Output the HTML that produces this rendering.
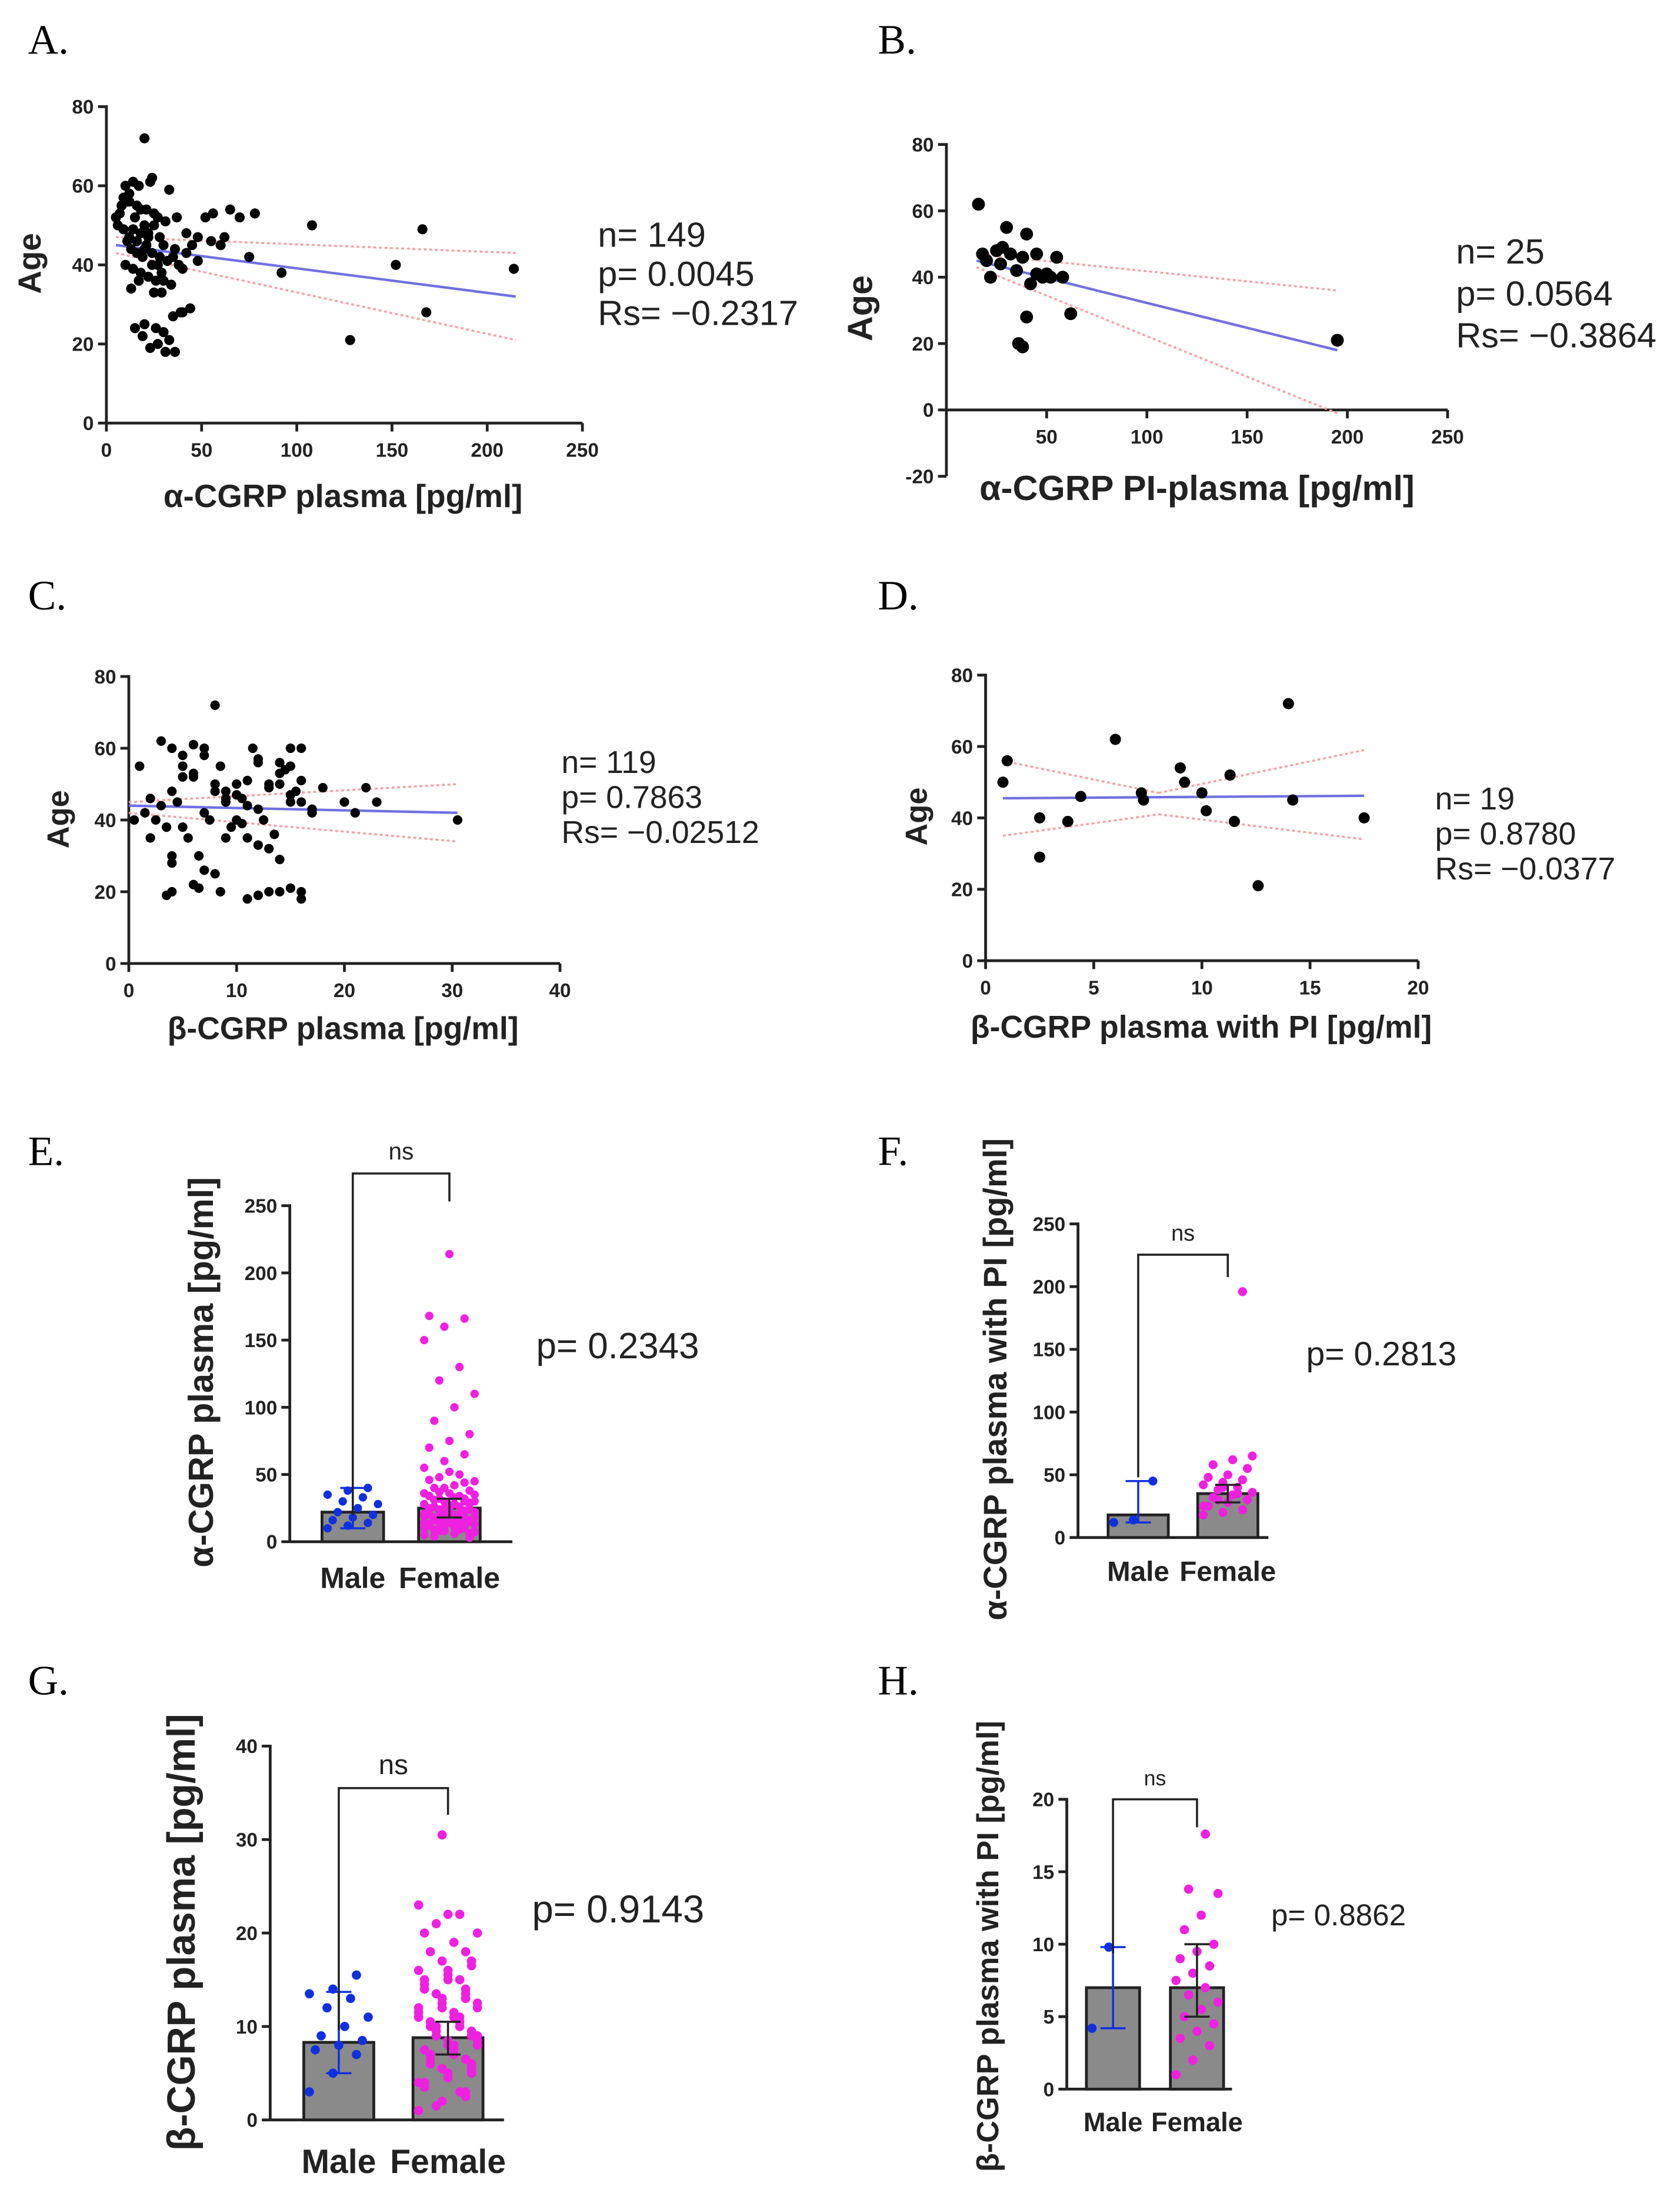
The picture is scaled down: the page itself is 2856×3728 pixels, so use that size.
<!DOCTYPE html>
<html><head><meta charset="utf-8"><style>
html,body{margin:0;padding:0;background:#fff;}
svg{display:block;}
text{font-family:"Liberation Sans",Arial,sans-serif;}
.lt{font-family:"Liberation Serif",serif;font-size:30px;}
.tk{font-size:14px;font-weight:bold;fill:#222;}
.ti{font-size:20px;font-weight:bold;fill:#222;}
.st{font-size:22px;fill:#222;}
</style></head><body>
<svg id="fig" width="2856" height="3728" viewBox="0 0 1200 1566" xmlns="http://www.w3.org/2000/svg"></svg>
<script>
// ---- data ----
const aX=[10,12,14,8,15,18,20,22,25,28,30,5,7,9,11,13,16,19,21,24,27,29,32,35,38,40,10,14,18,22,26,30,34,12,16,20,24,28,8,6,11,17,23,33,37,42,45,48,52,56,60,62,65,70,75,78,92,108,128,152,166,168,214,15,19,23,27,31,36,40,44,13,17,25,29,35,39,20,26,30,33,9,12,16,21,25,27,31,36,42,48,55,20,24,14,18,22];
const aY=[60,58,61,55,52,54,50,48,50,47,45,52,53,49,46,44,43,42,45,40,40,38,41,42,40,39,40,39,38,37,36,36,35,47,46,44,43,42,55,50,56,60,61,59,52,48,45,47,52,53,45,47,54,52,42,53,38,50,21,40,49,28,39,24,22,19,20,18,18,28,29,34,36,33,33,27,28,25,24,23,21,57,56,55,54,53,52,51,44,43,41,46,72,62,49,48,47];
const bX=[16,18,20,22,25,27,30,32,35,38,40,42,45,48,50,52,55,58,62,36,38,40,28,45,195];
const bY=[62,47,45,40,48,44,55,47,42,46,53,38,47,40,41,40,46,40,29,20,19,28,49,41,21];
const cX=[0.5,1,2,3,4,5,6,7,8,9,10,11,12,13,14,15,16,1.5,2.5,3.5,4.5,5.5,6.5,7.5,8.5,9.5,10.5,11.5,12.5,13.5,14.5,15.5,3,4,5,6,7,8,9,10,11,12,13,14,15,16,17,2,4,6,8,10,12,14,16,5,7,9,11,13,15,3.5,6.5,8.5,11,13,15,4,7,9,12,14,16,18,20,21,22,23,30.5,10.5,8,6,4,5,12,14,15,16,17];
const cY=[40,55,46,44,48,52,53,42,50,45,47,44,56,50,53,47,45,42,40,38,45,35,30,40,55,38,46,60,40,36,54,48,62,30,38,52,60,48,46,40,35,43,32,50,60,20,42,35,20,22,25,50,19,20,18,55,58,48,51,49,45,19,21,20,18,20,21,28,26,35,33,29,60,49,45,42,49,45,40,39,72,61,60,58,57,56,55,51,43,60];
const dX=[0.8,1,2.5,2.5,3.8,4.4,6,7.2,7.3,9,9.2,10,10.2,11.3,11.5,12.6,14,14.2,17.5];
const dY=[50,56,40,29,39,46,62,47,45,54,50,47,42,52,39,21,72,45,40];
const eMale=[10,12,14,16,18,20,22,25,28,30,33,35,38,40];
const eFemale=[5,8,10,12,14,16,18,20,22,24,26,28,30,32,34,36,38,40,42,45,48,50,55,60,65,70,75,80,90,100,110,120,130,150,160,166,168,214,6,9,11,13,15,17,19,21,23,25,27,29,31,33,35,37,15,20,25,30,20,25,3,4,6,7,8,9,10,11,12,13,14,15,16,17,18,19,20,21,22,23,24,26,28,4,6,8,10,12,14,16,18,20,22,24,26,28,30,32,34,36,40,44,46,52];
const fMale=[12,14,45];
const fFemale=[18,20,22,25,28,30,32,34,36,38,40,42,44,46,48,50,55,58,62,65,30,35,25,40,196];
const gMale=[3,5,7,7.5,8,8.5,9,10,11,12,13,13.5,14,15.5];
const gFemale=[1,2,3,4,5,6,7,8,9,10,11,12,13,14,15,16,17,18,19,20,21,22,23,30.5,2.5,3.5,4.5,5.5,6.5,7.5,8.5,9.5,10.5,11.5,12.5,13.5,14.5,15.5,16.5,6,7,8,9,10,11,12,13,14,15,5,6,7,8,9,10,11,12,13,14,8,9,10,11,12,1.5,3,4,5.5,6.5,7.5,8.5,9.5,10.5,11.5,12.5,13.5,15,16,17,18,20,22];
const hMale=[4.2,9.8];
const hFemale=[1,2,3,3.5,4,4.5,5,5.5,6,6.5,7,7.5,8,8.5,9,9.5,10,11,12,13.5,13.8,17.6];
const barMeans=[[22,25],[18,35],[8.3,8.8],[7,7]];
const maleErr=[[10,40],[12,45],[5,13.7],[4.2,9.8]];
const femErr=[[18,32],[28,42],[7,10.5],[5,10]];

const S=document.getElementById('fig');const NS='http://www.w3.org/2000/svg';
function mk(t,a,p){const e=document.createElementNS(NS,t);for(const k in a)e.setAttribute(k,a[k]);(p||S).appendChild(e);return e;}
function txt(x,y,s,cls,anchor,rot){const e=mk('text',{x:x,y:y,class:cls,'text-anchor':anchor||'start'});if(rot)e.setAttribute('transform','rotate(-90 '+x+' '+y+')');e.textContent=s;return e;}

const letters=[['A.',20,38],['B.',627,38],['C.',20,435],['D.',627,435],['E.',20,832],['F.',627,832],['G.',20,1210],['H.',627,1210]];
letters.forEach(l=>{const e=txt(l[1],l[2],l[0],'lt');

});

function axes(g,x0,xEnd,y0,yTop,yTicks,fy,xTicks,fx){
 let e=mk('line',{x1:x0,y1:yTop-1,x2:x0,y2:fy(yTicks[0]),stroke:'#222','stroke-width':2},g);
 
 yTicks.forEach(v=>{mk('line',{x1:x0-6,x2:x0,y1:fy(v),y2:fy(v),stroke:'#222','stroke-width':2},g);
  const t=txt(x0-9,fy(v)+5,String(v),'tk','end');g.appendChild(t);});
 if(xTicks){e=mk('line',{x1:x0,y1:y0,x2:xEnd,y2:y0,stroke:'#222','stroke-width':2},g);
 
 xTicks.forEach(v=>{mk('line',{x1:fx(v),x2:fx(v),y1:y0,y2:y0+6,stroke:'#222','stroke-width':2},g);
  const t=txt(fx(v),y0+24,String(v),'tk','middle');g.appendChild(t);});}
}
function scatter(name,xs,ys,c){
 const g=mk('g',{});
 const fx=v=>c.x0+(v-c.xmin)/(c.xmax-c.xmin)*(c.x1-c.x0);
 const fy=v=>c.y0-(v-c.ymin)/(c.ymax-c.ymin)*(c.y0-c.y1);
 axes(g,c.x0,c.x1,fy(0),c.y1,c.yt,fy,c.xt,fx);
 c.ci.forEach(b=>{const e=mk('line',{x1:fx(b[0]),y1:fy(b[1]),x2:fx(b[2]),y2:fy(b[3]),stroke:'#f4a0a8','stroke-width':1.5,'stroke-dasharray':'2,2'},g);
  });
 const rl=mk('line',{x1:fx(c.reg[0]),y1:fy(c.reg[1]),x2:fx(c.reg[2]),y2:fy(c.reg[3]),stroke:'#7070e0','stroke-width':1.8},g);
 
 xs.forEach((v,i)=>{const p=mk('circle',{cx:fx(v),cy:fy(ys[i]),r:c.r,fill:'#000'},g);
  });
 let t=txt(c.ageX,c.ageY,'Age','ti','middle',true);t.style.fontSize=c.aF+'px';g.appendChild(t);
 
 t=txt(c.tX,c.tY,c.title,'ti','middle');t.style.fontSize=c.tF+'px';g.appendChild(t);
 
 c.stats.forEach((s,i)=>{const q=txt(c.sX,c.sY+i*c.sD,s,'st');q.style.fontSize=c.sF+'px';g.appendChild(q);
  });
}
scatter('panel-a-scatter',aX,aY,{x0:76,x1:416,xmin:0,xmax:250,y0:302,y1:76,ymin:0,ymax:80,yt:[0,20,40,60,80],xt:[0,50,100,150,200,250],r:3.6,
 reg:[5,45,215,32],ci:[[5,47,215,43],[5,43,215,21]],ageX:29,ageY:188,aF:23,tX:245,tY:362,tF:23,title:'α-CGRP plasma [pg/ml]',stats:['n= 149','p= 0.0045','Rs= −0.2317'],sX:427,sY:176,sD:28,sF:25});
scatter('panel-b-scatter',bX,bY,{x0:676,x1:1034,xmin:0,xmax:250,y0:340,y1:103,ymin:-20,ymax:80,yt:[-20,0,20,40,60,80],xt:[50,100,150,200,250],r:4.6,
 reg:[15,45,195,18],ci:[[15,47,195,36],[15,43,195,-1]],ageX:623,ageY:220,aF:25,tX:855,tY:357,tF:25,title:'α-CGRP PI-plasma [pg/ml]',stats:['n= 25','p= 0.0564','Rs= −0.3864'],sX:1040,sY:188,sD:30,sF:25});
scatter('panel-c-scatter',cX,cY,{x0:92,x1:400,xmin:0,xmax:40,y0:688,y1:483,ymin:0,ymax:80,yt:[0,20,40,60,80],xt:[0,10,20,30,40],r:3.4,
 reg:[0,44,30.5,42],ci:[[0,45,30.5,50],[0,42,30.5,34]],ageX:49,ageY:585,aF:22,tX:245,tY:742,tF:22.5,title:'β-CGRP plasma [pg/ml]',stats:['n= 119','p= 0.7863','Rs= −0.02512'],sX:401,sY:552,sD:25,sF:22.5});
scatter('panel-d-scatter',dX,dY,{x0:704,x1:1013,xmin:0,xmax:20,y0:686,y1:482,ymin:0,ymax:80,yt:[0,20,40,60,80],xt:[0,5,10,15,20],r:4,
 reg:[0.8,45.5,17.5,46.2],ci:[[0.8,56,8,47],[8,47,17.5,59],[0.8,35,8,41],[8,41,17.5,34]],ageX:662,ageY:583,aF:22,tX:858,tY:741,tF:22.5,title:'β-CGRP plasma with PI [pg/ml]',stats:['n= 19','p= 0.8780','Rs= −0.0377'],sX:1025,sY:578,sD:25,sF:22.5});

function barPanel(name,idx,male,female,c){
 const g=mk('g',{});
 const fy=v=>c.y0-v/c.ymax*(c.y0-c.y1);
 axes(g,c.x0,c.xEnd,c.y0,c.y1,c.yt,fy,null,null);
 mk('line',{x1:c.x0,y1:c.y0,x2:c.xEnd,y2:c.y0,stroke:'#222','stroke-width':2},g);
 const cents=[c.mc,c.fc],data=[male,female],cols=['#1030e0','#f020e0'],labels=['Male','Female'];
 [0,1].forEach(i=>{
  const b=mk('rect',{x:cents[i]-c.bw/2,y:fy(barMeans[idx][i]),width:c.bw,height:c.y0-fy(barMeans[idx][i]),fill:'#8a8a8a',stroke:'#222','stroke-width':2},g);
  
  data[i].forEach((v,j)=>{const off=((j*37)%11-5)/5*(c.bw/2-4);
   const p=mk('circle',{cx:cents[i]+off,cy:fy(v),r:c.r,fill:cols[i]},g);
   });
  const er=i?femErr[idx]:maleErr[idx];const ec=i?'#222':'#1030e0';
  const e=mk('path',{d:`M${cents[i]},${fy(er[0])}V${fy(er[1])}M${cents[i]-9},${fy(er[0])}h18M${cents[i]-9},${fy(er[1])}h18`,stroke:ec,'stroke-width':1.5,fill:'none'},g);
  
  const t=txt(cents[i],c.lY,labels[i],'ti','middle');t.style.fontSize=c.lF+'px';g.appendChild(t);
  
 });
 const br=mk('path',{d:`M${c.mc},${c.bm}V${c.bY}H${c.fc}V${c.bf}`,stroke:'#222','stroke-width':1.5,fill:'none'},g);
 
 let t=txt((c.mc+c.fc)/2,c.bY-10,'ns','tk','middle');t.style.fontWeight='normal';t.style.fontSize=(c.lF-4)+'px';g.appendChild(t);
 
 t=txt(c.tX,c.tY,c.title,'ti','middle',true);t.style.fontSize=c.tF+'px';g.appendChild(t);
 
 t=txt(c.pX,c.pY,c.p,'st');t.style.fontSize=c.pF+'px';g.appendChild(t);
 
}
barPanel('panel-e-bars',0,eMale,eFemale,{x0:207,xEnd:366,y0:1101,y1:861,ymax:250,yt:[0,50,100,150,200,250],mc:252,fc:321,bw:44,r:3,lY:1134,lF:21,bY:838,bm:1082,bf:858,tX:152,tY:980,title:'α-CGRP plasma [pg/ml]',tF:25,p:'p= 0.2343',pX:383,pY:970,pF:26});
barPanel('panel-f-bars',1,fMale,fFemale,{x0:770,xEnd:906,y0:1098,y1:874,ymax:250,yt:[0,50,100,150,200,250],mc:813,fc:877,bw:43,r:3.2,lY:1129,lF:20,bY:896,bm:1055,bf:912,tX:719,tY:985,title:'α-CGRP plasma with PI [pg/ml]',tF:23.5,p:'p= 0.2813',pX:933,pY:975,pF:24});
barPanel('panel-g-bars',2,gMale,gFemale,{x0:193,xEnd:360,y0:1514,y1:1247,ymax:40,yt:[0,10,20,30,40],mc:242,fc:320,bw:50,r:3.3,lY:1552,lF:24,bY:1277,bm:1450,bf:1296,tX:139,tY:1380,title:'β-CGRP plasma [pg/ml]',tF:28,p:'p= 0.9143',pX:380,pY:1373,pF:27.5});
barPanel('panel-h-bars',3,hMale,hFemale,{x0:762,xEnd:880,y0:1492,y1:1285,ymax:20,yt:[0,5,10,15,20],mc:795,fc:855,bw:38,r:3.3,lY:1522,lF:19,bY:1285,bm:1395,bf:1305,tX:713,tY:1390,title:'β-CGRP plasma with PI [pg/ml]',tF:22,p:'p= 0.8862',pX:908,pY:1375,pF:21.5});
</script>
</body></html>
